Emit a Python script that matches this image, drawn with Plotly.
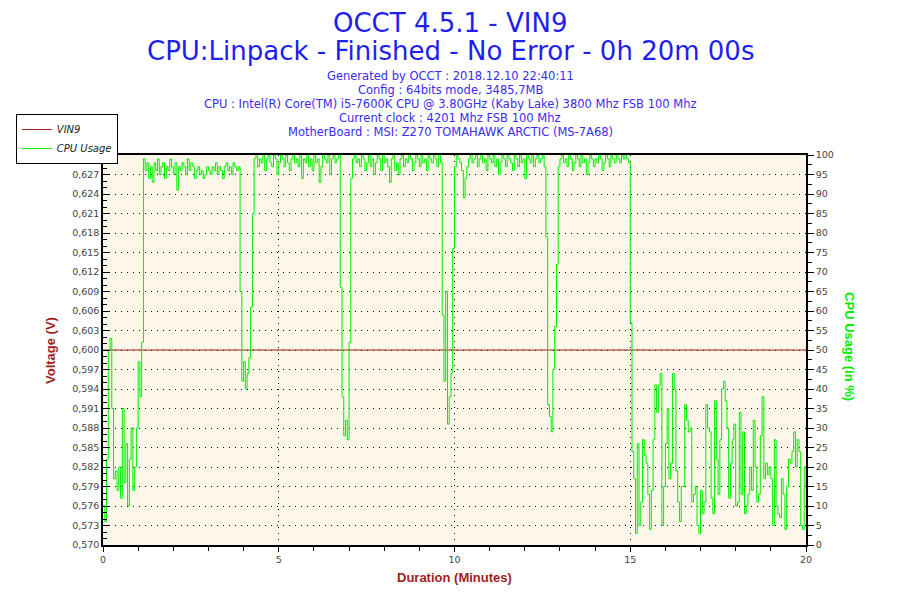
import numpy as np
import plotly.graph_objects as go

# OCCT log, one CPU sample every 3 seconds over 20 minutes
SAMPLE_SECONDS = 3

cpu_start = [10, 6, 22, 50, 53, 35, 17, 19, 14, 20, 12, 35, 16, 26, 10, 22, 30, 14, 20, 30,
             47, 38, 52]
plateau_1 = [99, 96, 98, 94, 97, 93, 98, 96, 99, 95, 97, 98, 94, 97, 96, 99, 97, 95, 98, 91,
             97, 96, 98, 97, 95, 99, 96, 98, 97, 94, 96, 97, 95, 96, 94, 95, 97, 96, 95, 97,
             96, 98, 95, 97, 96, 94, 97, 98, 96, 97, 95, 98, 97, 96, 97]
dip_1 = [65, 42, 47, 40, 44, 48, 61, 85]
plateau_2 = [99, 100, 97, 99, 98, 100, 96, 99, 100, 98, 97, 100, 99, 95, 98, 100, 99, 97, 100, 98,
             96, 99, 100, 98, 99, 97, 100, 94, 99, 98, 100, 97, 99, 96, 100, 98, 99, 93, 97, 100,
             99, 98, 100, 95, 99, 100, 98, 99, 100]
dip_2 = [66, 38, 28, 32, 27, 52]
plateau_3 = [94, 99, 100, 98, 99, 97, 100, 99, 96, 98, 100, 97, 99, 95, 98, 100, 99, 96, 100, 98,
             99, 97, 93, 99, 100, 96, 98, 95, 99, 100, 97, 99, 98, 100, 99, 96, 98, 100, 99, 97,
             100, 98, 99, 96, 100, 99, 98, 100, 99, 97, 100, 98]
dip_3 = [59, 42, 65, 31, 38, 44, 76]
plateau_4 = [97, 100, 99, 98, 96, 89, 94, 97, 99, 100, 98, 99, 100, 97, 99, 100, 98, 99, 96, 100,
             99, 98, 100, 97, 99, 95, 98, 100, 99, 97, 100, 99, 98, 96, 100, 99, 97, 100, 98, 99,
             94, 100, 99, 98, 100, 97, 99, 100, 98, 99, 100, 97]
dip_4 = [79, 36, 33, 29, 45, 56, 72]
plateau_5 = [97, 99, 100, 98, 99, 97, 100, 99, 96, 98, 100, 99, 97, 100, 98, 99, 95, 98, 100, 99,
             97, 99, 98, 100, 99, 96, 98, 100, 99, 97, 100, 99, 98, 100, 99, 98, 100, 99, 100, 99, 98]
cpu_end = [57,
           24, 17, 3, 26, 5, 11, 27, 23, 21, 13, 4, 14, 27, 41, 34, 41, 44, 5, 15, 26,
           35, 17, 21, 44, 40, 19, 11, 6, 15, 15, 36, 32, 29, 30, 11, 13, 15, 5, 3, 14,
           8, 11, 36, 30, 29, 12, 8, 37, 22, 13, 27, 40, 42, 37, 30, 12, 21, 27, 31, 10,
           11, 34, 13, 29, 8, 10, 13, 20, 14, 32, 20, 11, 13, 28, 38, 17, 21, 18, 20, 17,
           5, 27, 10, 8, 7, 17, 13, 4, 15, 22, 21, 24, 29, 20, 27, 24, 5, 4, 20, 15]

cpu_usage = (cpu_start + plateau_1 + dip_1 + plateau_2 + dip_2 + plateau_3 + dip_3
             + plateau_4 + dip_4 + plateau_5 + cpu_end)
minutes = np.arange(len(cpu_usage)) * SAMPLE_SECONDS / 60.0
vin9 = [0.600] * len(cpu_usage)

header = [
    "Generated by OCCT : 2018.12.10 22:40:11",
    "Config : 64bits mode, 3485,7MB",
    "CPU : Intel(R) Core(TM) i5-7600K CPU @ 3.80GHz (Kaby Lake) 3800 Mhz FSB 100 Mhz",
    "Current clock : 4201 Mhz FSB 100 Mhz",
    "MotherBoard : MSI: Z270 TOMAHAWK ARCTIC (MS-7A68)",
]

red = "#a3201d"
green = "#00ee00"
blue = "#1e1ef0"
grid_dash = "1px,5px"
tick_font = dict(family="DejaVu Sans", size=9.5, color="#444444")

fig = go.Figure()
fig.add_trace(go.Scatter(x=minutes, y=vin9, name="VIN9", mode="lines",
                         line=dict(color=red, width=1)))
fig.add_trace(go.Scatter(x=minutes, y=cpu_usage, name="CPU Usage", mode="lines",
                         line=dict(color=green, width=1, shape="hv"), yaxis="y2"))

# the page body adds ~8px offset, so margins are shifted to compensate
fig.update_layout(
    width=900, height=600,
    margin=dict(l=95, r=102, t=147, b=63, autoexpand=False),
    paper_bgcolor="white",
    plot_bgcolor="#fdf7e9",
    separators=",.",
    showlegend=True,
    legend=dict(x=-0.124, y=1.105, xanchor="left", yanchor="top",
                bgcolor="white", bordercolor="black", borderwidth=1,
                font=dict(family="DejaVu Sans", size=10, color="#222222", style="italic"),
                tracegroupgap=0, itemwidth=30),
    xaxis=dict(range=[0, 20], tick0=0, dtick=5, ticks="outside", ticklen=5,
               tickcolor="black", tickfont=tick_font,
               minor=dict(dtick=1, ticks="outside", ticklen=4, tickcolor="black"),
               showline=True, linecolor="black", linewidth=1.5, mirror=True,
               showgrid=True, gridcolor="black", gridwidth=1, griddash=grid_dash,
               zeroline=False),
    yaxis=dict(range=[0.570, 0.630], tick0=0.570, dtick=0.003, tickformat=".3f",
               ticks="inside", ticklen=7, tickcolor="black", tickfont=tick_font,
               minor=dict(dtick=0.001, ticks="inside", ticklen=4, tickcolor="black"),
               showline=True, linecolor="black", linewidth=1.5,
               showgrid=True, gridcolor="black", gridwidth=1, griddash=grid_dash,
               zeroline=False),
    yaxis2=dict(range=[0, 100], tick0=0, dtick=5, overlaying="y", side="right",
                ticks="outside", ticklen=6, tickcolor="black", tickfont=tick_font,
                minor=dict(dtick=2.5, ticks="outside", ticklen=4, tickcolor="black"),
                showline=True, linecolor="black", linewidth=1.5,
                showgrid=False, zeroline=False),
)

annotations = [
    dict(text="OCCT 4.5.1 - VIN9", x=0.4936, y=1.338, font=dict(size=26, color=blue)),
    dict(text="CPU:Linpack - Finished - No Error - 0h 20m 00s", x=0.4936, y=1.266,
         font=dict(size=26, color=blue)),
]
for i, line in enumerate(header):
    annotations.append(dict(text=line, x=0.4936, y=1.2026 - i * 0.0359,
                            font=dict(size=11.5, color="#3a2cf0")))
annotations += [
    dict(text="<b>Voltage (V)</b>", x=-0.0754, y=0.5, textangle=-90,
         font=dict(family="Liberation Sans Narrow, Liberation Sans", size=13, color=red)),
    dict(text="<b>CPU Usage (in %)</b>", x=1.0626, y=0.51, textangle=90,
         font=dict(family="Liberation Sans Narrow, Liberation Sans", size=13, color=green)),
    dict(text="<b>Duration (Minutes)</b>", x=0.5, y=-0.0846,
         font=dict(family="Liberation Sans Narrow, Liberation Sans", size=13, color=red)),
]
for a in annotations:
    a.update(xref="paper", yref="paper", showarrow=False, xanchor="center", yanchor="middle")
    a["font"].setdefault("family", "DejaVu Sans")
fig.update_layout(annotations=annotations)

fig.write_html("out.html")
